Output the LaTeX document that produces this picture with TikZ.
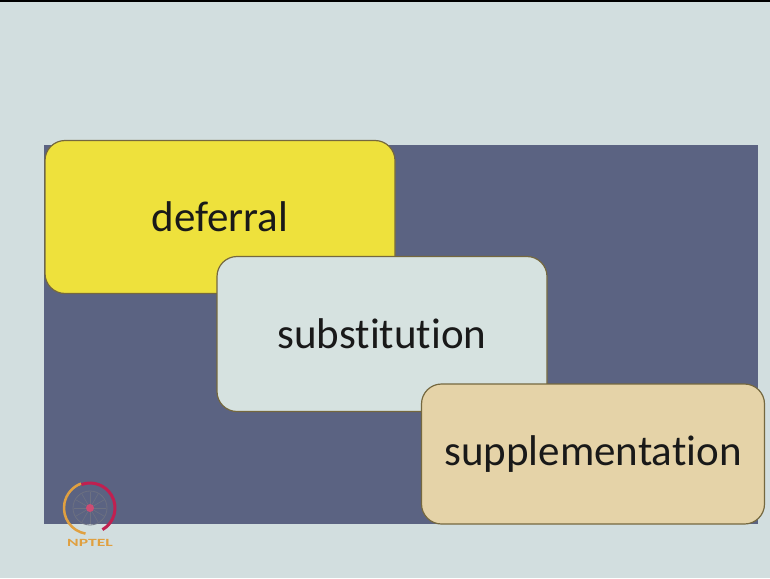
\documentclass[tikz,border=0pt]{standalone}
\usepackage{fontspec}
\setmainfont[Ligatures=NoCommon]{Carlito}
\definecolor{slidebg}{HTML}{D2DEDF}
\definecolor{panel}{HTML}{5B6382}
\definecolor{defyellow}{HTML}{EEE13C}
\definecolor{subgray}{HTML}{D6E2E0}
\definecolor{suptan}{HTML}{E5D3A8}
\definecolor{boxedge}{HTML}{75683F}
\definecolor{logoorange}{HTML}{E0A040}
\definecolor{logored}{HTML}{C02050}
\begin{document}
\begin{tikzpicture}[x=1pt,y=-1pt,font=\fontsize{43}{50}\selectfont,
  card/.style={draw=boxedge,line width=1.2pt,rounded corners=20pt,text=black!90}]
\useasboundingbox[fill=slidebg] (0,0) rectangle (770,578);
\fill[black] (0,0) rectangle (770,2.5);
% dark panel behind the cards
\fill[panel] (44,145) rectangle (758,524);
\node[card,fill=defyellow,minimum width=350pt,minimum height=153pt] (deferral) at (220,217) {deferral};
\node[card,fill=subgray,minimum width=330pt,minimum height=155pt] (substitution) at (382,334) {substitution};
\node[card,fill=suptan,minimum width=343pt,minimum height=140pt] (supplementation) at (593,454) {supplementation};
% logo
\coordinate (logo) at (90,508);
\draw[logoorange,line width=2.5pt] (logo) ++(100:26) arc (100:250:26);
\draw[logored,line width=3pt] (logo) ++(60:25) arc (60:-110:25);
\foreach \a in {0,30,...,330}
  \draw[gray!50!panel,line width=0.6pt] (logo) -- ++(\a:16);
\draw[gray!50!panel,line width=0.8pt] (logo) circle (17);
\fill[logored!80] (logo) circle (4);
\node[font=\bfseries\fontsize{11}{11}\selectfont,text=logoorange,xscale=1.6] (nptel) at (90,543) {NPTEL};
\end{tikzpicture}
\end{document}
